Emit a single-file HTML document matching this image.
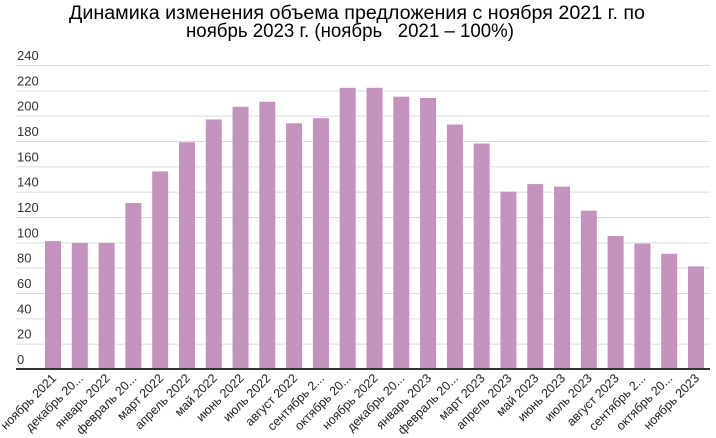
<!DOCTYPE html>
<html><head><meta charset="utf-8"><style>
html,body{margin:0;padding:0;background:#fff;}
svg{display:block;font-family:"Liberation Sans",sans-serif;}
</style></head><body>
<svg width="716" height="438" viewBox="0 0 716 438" xmlns="http://www.w3.org/2000/svg">
<text x="357" y="19" font-size="19" text-anchor="middle" fill="#000" textLength="576" lengthAdjust="spacingAndGlyphs">Динамика изменения объема предложения с ноября 2021 г. по</text>
<text x="350" y="37" font-size="19" text-anchor="middle" fill="#000" xml:space="preserve" textLength="328" lengthAdjust="spacingAndGlyphs">ноябрь 2023 г. (ноябрь   2021 – 100%)</text>
<g id="grid" stroke="#dcdcdc" stroke-width="1"></g>
<g id="ylab" font-size="13" fill="#333"></g>
<g id="bars" fill="#c493bd"></g>
<line x1="16" y1="369" x2="710" y2="369" stroke="#333" stroke-width="2"/>
<g id="xlab" font-size="12.5" fill="#222"></g>
</svg>
<script>
var ns="http://www.w3.org/2000/svg";
function el(t,a,p,txt){var e=document.createElementNS(ns,t);for(var k in a)e.setAttribute(k,a[k]);if(txt)e.textContent=txt;document.getElementById(p).appendChild(e);}
var y0=369,s=304/240;
for(var v=20;v<=240;v+=20){var y=y0-v*s;el('line',{x1:16,x2:710,y1:y+.5,y2:y+.5},'grid');}
for(var v=0;v<=240;v+=20){var y=y0-v*s;el('text',{x:17,y:y-5},'ylab',String(v));}
var vals=[101,99.5,99.5,131,156,179,197,207,211,194,198,222,222,215,214,193,178,140,146,144,125,105,99,91,81];
var labs=["ноябрь 2021","декабрь 20...","январь 2022","февраль 20...","март 2022","апрель 2022","май 2022","июнь 2022","июль 2022","август 2022","сентябрь 2...","октябрь 20...","ноябрь 2022","декабрь 20...","январь 2023","февраль 20...","март 2023","апрель 2023","май 2023","июнь 2023","июль 2023","август 2023","сентябрь 2...","октябрь 20...","ноябрь 2023"];
var n=vals.length,c0=53,c1=696,st=(c1-c0)/(n-1);
for(var i=0;i<n;i++){var c=c0+i*st,h=vals[i]*s;
el('rect',{x:c-8,y:y0-h,width:16,height:h},'bars');
el('text',{x:c+4,y:y0+10,'text-anchor':'end',transform:'rotate(-45 '+(c+4)+' '+(y0+10)+')'},'xlab',labs[i]);}
</script>
</body></html>
